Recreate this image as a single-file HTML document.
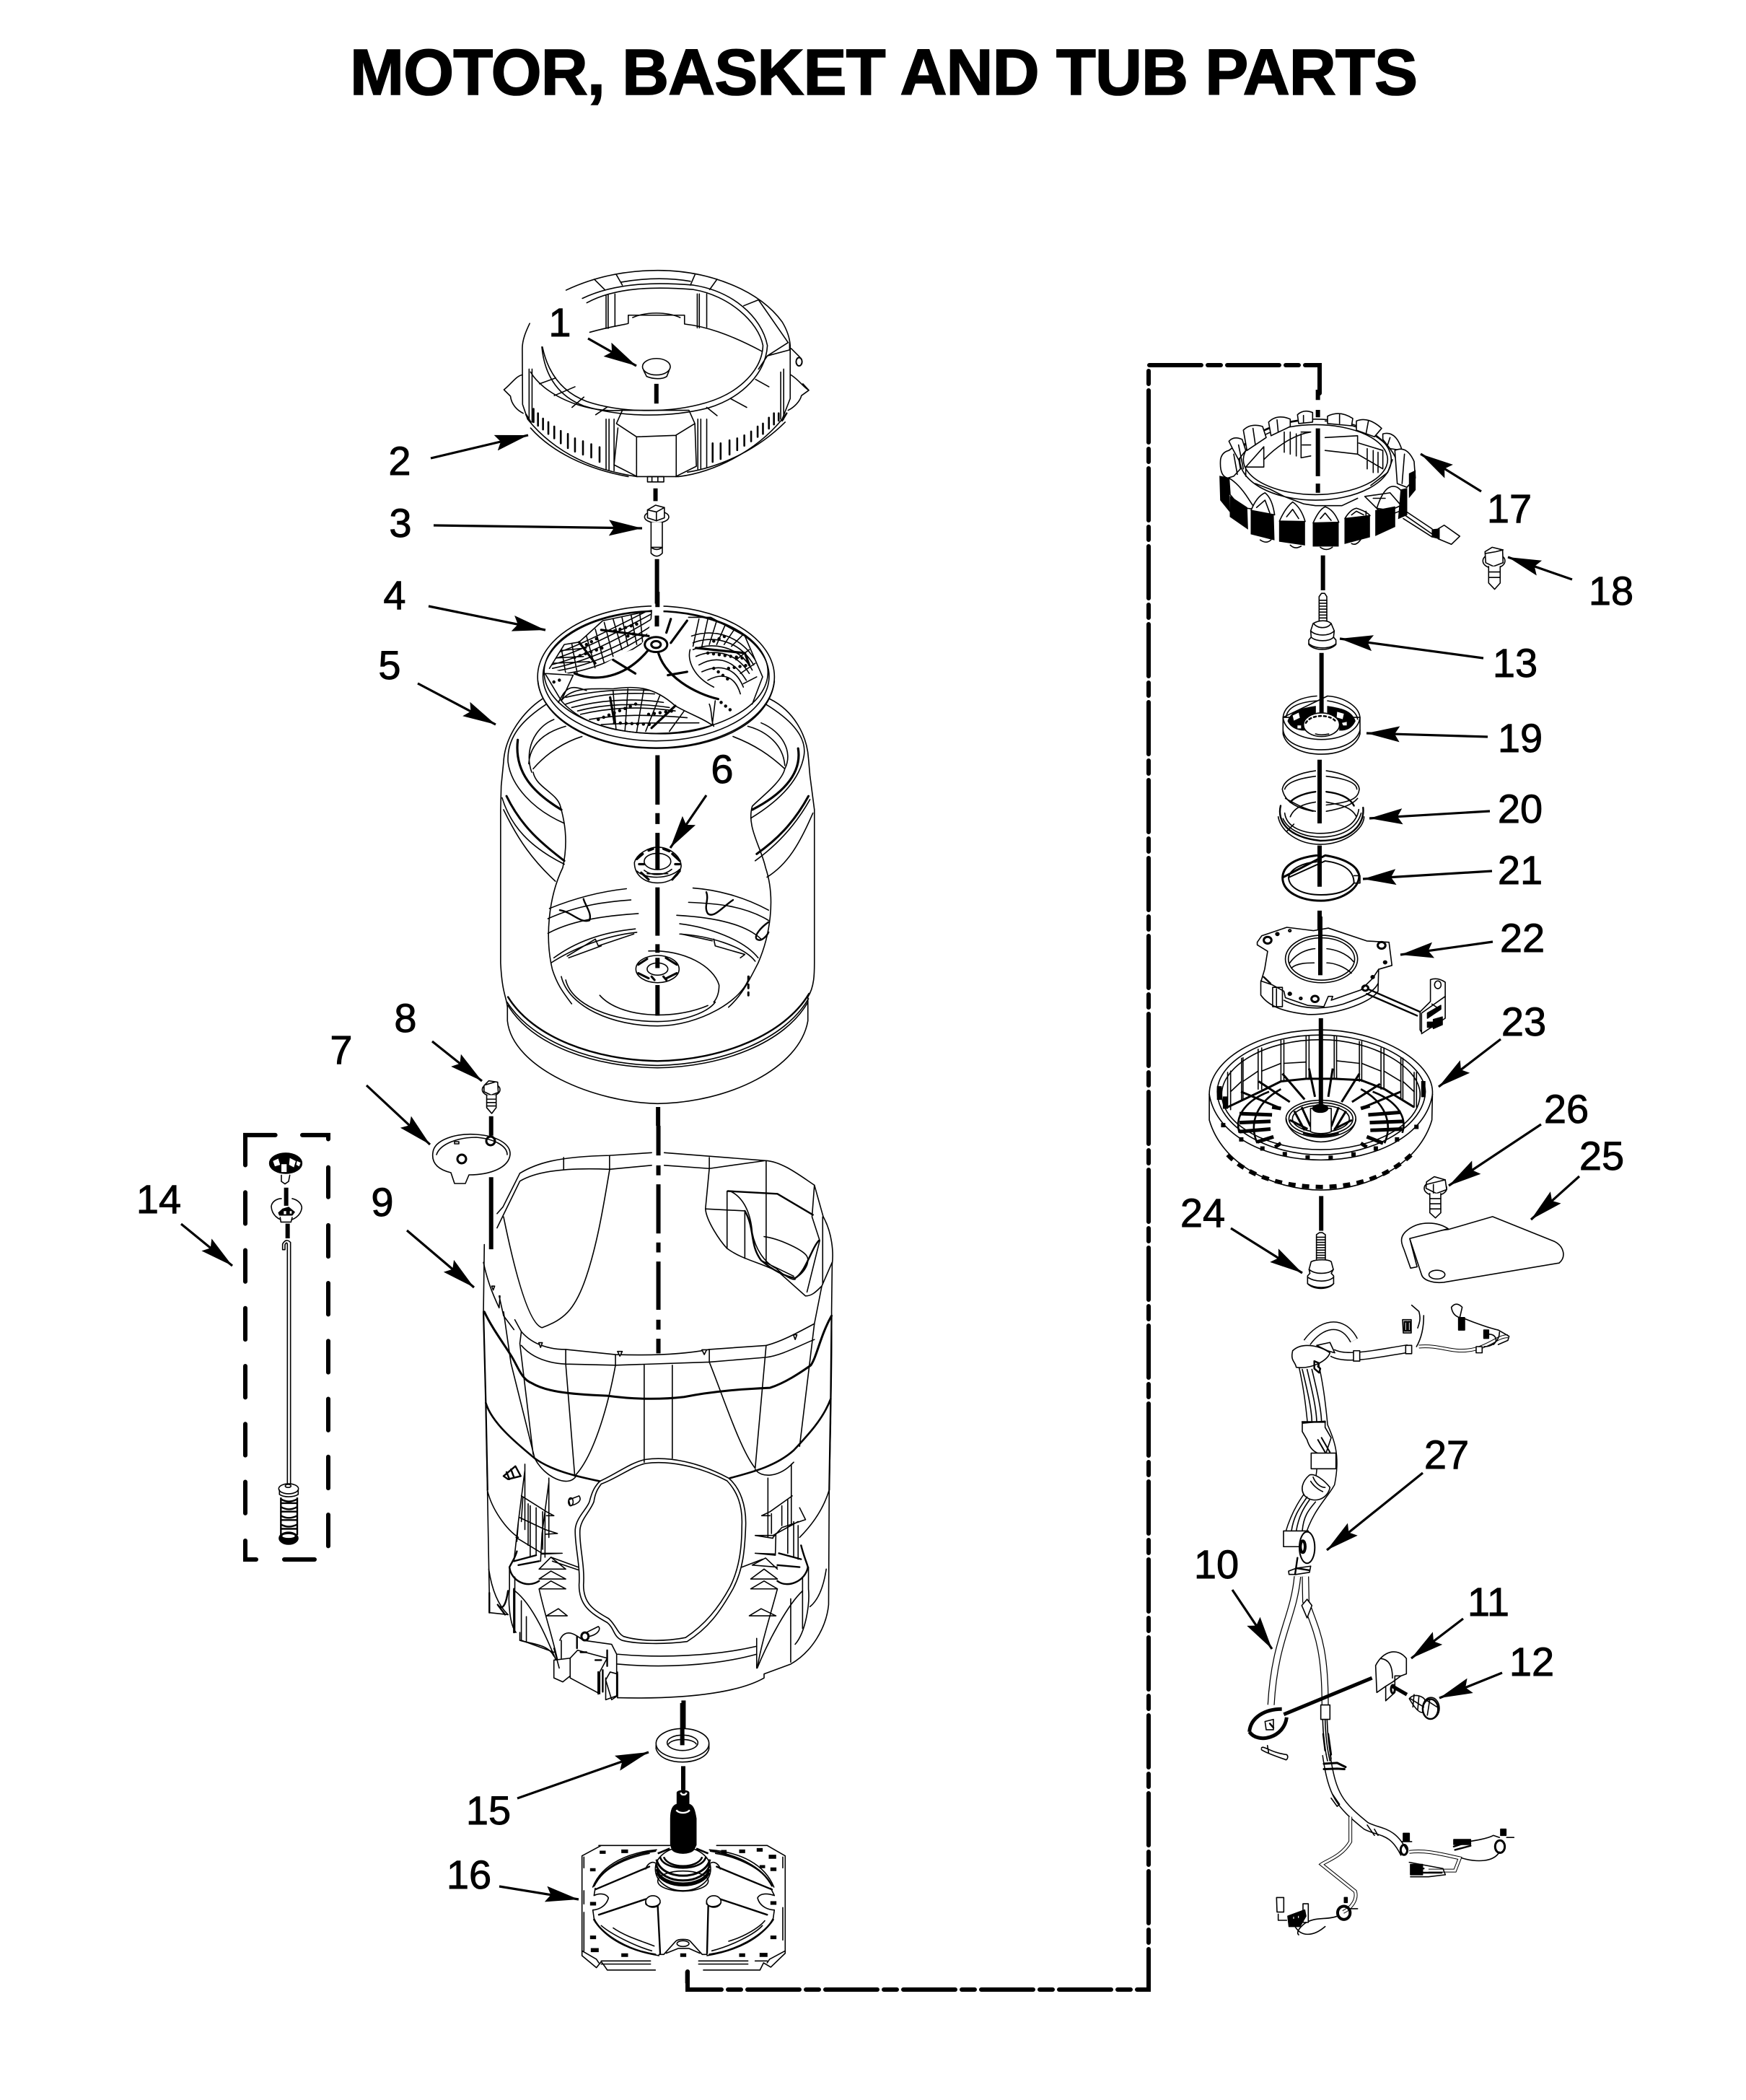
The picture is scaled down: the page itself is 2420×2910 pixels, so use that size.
<!DOCTYPE html>
<html><head><meta charset="utf-8"><title>Motor, Basket and Tub Parts</title>
<style>
html,body{margin:0;padding:0;background:#fff}
svg{display:block;position:absolute;left:0;top:0}
svg *{vector-effect:non-scaling-stroke}
.p{fill:none;stroke:#000;stroke-width:1.6;stroke-linejoin:round;stroke-linecap:round}
.w{fill:#fff}
.b{fill:#000;stroke:#000}
.k{fill:none;stroke:#000;stroke-width:6;stroke-linecap:butt}
.m{fill:none;stroke:#000;stroke-width:2.4}
.h{fill:none;stroke:#000;stroke-width:4.5}
.d{fill:none;stroke:#000;stroke-width:4.5;stroke-linecap:round;stroke-dasharray:0 8}
.a{stroke:#000;stroke-width:3.2;fill:none;marker-end:url(#ah)}
text{font-family:"Liberation Sans",Arial,sans-serif;fill:#000;stroke:#000;stroke-width:.9;font-size:56px;text-anchor:middle}
</style></head><body>
<svg width="2420" height="2910" viewBox="0 0 2420 2910" xmlns="http://www.w3.org/2000/svg">
<defs>
<marker id="ah" markerUnits="userSpaceOnUse" markerWidth="50" markerHeight="28" refX="46" refY="14" orient="auto">
<path d="M0,3 L46,14 L0,25 L7,14 Z" fill="#000" stroke="none" style="vector-effect:none"/>
</marker>
<clipPath id="sa"><path d="M345,225 L395,155 L445,148 L525,85 L690,55 L688,80 C680,130 660,150 640,170 C600,165 520,230 430,245 Z"/></clipPath>
<clipPath id="sb"><path d="M815,75 L890,75 L1005,130 L1065,250 L1030,330 L910,310 C850,260 800,240 740,170 C780,130 790,110 815,75Z"/></clipPath>
<clipPath id="sc"><path d="M385,320 C420,280 480,285 560,285 C640,275 700,280 770,335 C820,360 860,370 895,392 C820,420 700,425 570,405 C490,390 430,365 385,320Z"/></clipPath>
</defs>
<rect width="2420" height="2910" fill="#fff"/>

<text x="1225" y="131" style="font-size:90px;font-weight:bold;stroke-width:1.6" textLength="1480" lengthAdjust="spacing">MOTOR, BASKET AND TUB PARTS</text>

<!-- big dash-dot connector -->
<path class="k" style="stroke-linecap:round" stroke-dasharray="72 9 18 9" d="M953,2732 V2757 H1592 V506 H1829 V545"/>

<!-- Z1: part 1,2,3 -->
<g transform="translate(600,340) scale(.4103,.4082)">
<g class="p">
<path class="w" d="M240,490 C265,470 280,445 300,440 L302,350 C302,320 315,290 327,265 L335,310 L370,345 L530,295 L450,152 C560,100 670,85 760,85 C930,85 1100,150 1180,260 C1195,285 1205,310 1207,340 L1210,440 C1240,460 1250,480 1270,492 L1245,510 C1240,530 1220,550 1200,570 L1180,590 C1090,700 950,770 830,785 L690,785 C520,760 400,690 320,590 L305,570 C285,560 265,540 262,512 Z" style="stroke:none"/>
<path d="M450,152 C560,100 670,85 760,85 C930,85 1100,150 1180,260 C1195,285 1205,310 1207,340 L1207,520 L1180,590 C1090,700 950,770 830,785 L690,785 C520,760 400,690 320,590 L303,540 L302,350 C302,320 315,290 327,265"/>
<path d="M300,440 C280,445 265,470 240,490 L262,512 C265,540 285,560 305,570"/>
<path d="M1210,440 C1240,460 1250,480 1270,492 L1245,510 C1240,530 1220,550 1200,560 M1250,470 L1270,492"/>
<path d="M520,195 C620,140 760,140 880,150 C1000,170 1100,260 1115,340 C1112,420 1040,500 920,535 C800,570 640,570 520,530 C440,500 390,440 370,345"/>
<path d="M505,180 C620,125 760,125 880,135 C1010,155 1110,240 1130,340 C1125,430 1050,515 930,552 C800,585 640,585 510,545 C430,515 378,450 368,345"/>
<path d="M530,295 C600,275 655,268 660,265 L660,237 L850,237 L850,267 C920,275 1000,300 1112,360 M675,245 C720,225 790,225 835,245"/>
<path d="M585,168V282 M592,168V282 M615,165V275 M893,165V280 M900,165V280 M925,165V278"/>
<path d="M545,115 L580,150 M620,100 L640,135 M885,100 L870,135 M960,115 L935,150 M1050,205 L1100,185 L1200,330 L1130,375 L1100,420 M1130,375 L1205,355 M1205,330V355 M635,125 C720,110 800,110 870,122"/>
<path d="M330,430 C370,500 500,570 640,560 M360,470 L415,450 M410,510 L480,480 M470,550 L510,515 M550,575 L590,548 M1090,455 L1135,480 M1005,520 L1060,550 M925,550 L960,578"/>
<path d="M620,605 L640,560 L865,560 L885,605 L820,645 L688,650 Z M688,650 L688,785 M822,645 L822,785 M625,620 L612,745 L690,785 M885,605 L890,750 L820,785"/>
<path d="M585,590V760 M595,590V762 M612,590V765 M895,590V760 M905,590V760 M925,590V755"/>
<path d="M325,420V590 M335,420V600 M1175,430V590 M1185,420V590"/>
<path d="M330,620 C400,700 520,760 660,785 M860,770 C980,750 1100,690 1190,600"/>
<path d="M725,785 h55 v18 h-55z M740,785v18 M760,785v18"/>
<path d="M1210,350 L1240,380"/>
<ellipse cx="1237" cy="395" rx="10" ry="14" style="stroke-width:2"/>
<path class="m" style="stroke-width:2.6" d="M340,555V600M355,570V612M372,588V625M390,600V640M410,615V655M432,630V672M456,640V688M480,655V700M507,665V710M535,675V720M563,685V735M945,672V735M972,672V725M1002,662V710M1028,655V695M1052,645V680M1075,632V665M1097,615V650M1115,605V640M1135,585V622M1152,570V608M1168,570V595"/>
<path class="m" d="M1195,570L1180,595 M315,575L330,600"/>
<ellipse class="w" cx="755" cy="412" rx="47" ry="28"/>
<path d="M712,425 L722,445 C745,455 775,455 790,445 L798,425"/>
</g>
<path class="k" d="M755,470V537 M752,825V868 M757,1065V1228 M760,1262V1298"/>
<g class="p">
<ellipse class="w" cx="756" cy="922" rx="41" ry="20"/>
<path class="w" d="M725,898 L752,882 L782,890 L782,925 L755,935 L725,925Z"/>
<path d="M755,905V935 M725,898 L755,905 L782,890"/>
<path class="w" d="M737,940V1025H775V940"/>
<path class="w" d="M737,1025V1045Q756,1065 775,1045V1025Q756,1040 737,1025Z"/>
</g>
</g>

<!-- Z2: part 5 tub -->
<g transform="translate(620,820) scale(.4103,.4719)">
<g class="p">
<path class="w" d="M180,640 L180,1090 C185,1180 200,1190 203,1220 L203,1260 C220,1400 500,1500 710,1503 C950,1500 1190,1400 1218,1260 L1218,1190 C1240,1160 1240,1120 1240,1090 L1240,640 L1220,490 C1215,420 1170,350 1090,315 L320,315 C260,350 195,420 190,500 Z" style="stroke:none"/>
<path d="M320,315 C260,350 195,420 190,500 L182,570 L180,640 L180,1090 C185,1180 200,1190 203,1220 L203,1260 C220,1400 500,1500 710,1503 C950,1500 1190,1400 1218,1260 L1218,1190 C1240,1160 1240,1120 1240,1090 L1240,640 L1225,540 L1220,490 C1215,420 1170,350 1090,315"/>
<path d="M335,330 C265,370 200,420 205,500 C215,570 290,640 395,680 M1075,330 C1150,370 1215,420 1205,480 C1190,560 1110,620 1025,665"/>
<path d="M360,375 C290,400 260,470 285,530 M1060,385 C1130,410 1170,470 1140,520 M275,505 C280,440 340,410 400,395 M1015,395 C1080,410 1135,450 1140,510"/>
<path class="m" style="stroke-width:3.2" d="M238,435 C225,530 290,590 385,640 M1185,460 C1200,540 1120,600 1030,640"/>
<path d="M290,530 C300,575 370,590 382,630 C395,670 410,730 390,810 C340,900 330,1020 355,1110 C370,1150 385,1170 420,1210 M1140,520 C1130,560 1050,610 1030,630 C1010,690 1060,750 1075,810 C1110,900 1090,1010 1050,1090 C1020,1140 1000,1180 950,1220 M290,520 C340,470 400,440 455,425 M965,425 C1040,450 1090,480 1140,520"/>
<path d="M185,605 C215,690 280,750 395,800 M190,640 C240,730 290,790 365,850 M1225,610 C1180,680 1120,740 1040,790 M1235,650 C1190,740 1150,800 1080,838"/>
<path class="m" style="stroke-width:3" d="M200,600 C250,690 320,740 395,790 M1220,600 C1170,680 1110,730 1045,770"/>
<path d="M345,930 C430,900 520,880 605,872 M340,960 C440,920 540,910 620,905 M340,1003 C430,960 560,950 645,945 M360,1075 C430,1030 520,1000 635,990 M350,1090 C420,1050 530,1010 640,1000"/>
<path d="M1085,935 C1000,895 910,875 830,870 M1085,965 C1000,920 900,915 815,912 M1060,1020 C1000,970 880,955 775,950 M1050,1075 C1000,1020 880,985 785,975 M1040,1085 C1000,1040 880,1010 785,1005"/>
<path class="m" d="M380,935 C420,940 450,975 480,965 C490,945 465,920 460,902 M965,905 C930,925 900,960 880,945 C865,925 885,905 875,882 M1085,970 C1060,985 1035,1010 1045,1020 C1060,1030 1080,1010 1085,1000"/>
<path d="M405,1070 L500,1020 L510,1040 L630,1005 M410,1075 L520,1040 M900,1020 L905,1040 L1005,1065 L990,1075 M790,1005 L895,1025"/>
<path d="M385,1130 C410,1220 560,1275 710,1275 C850,1275 1000,1200 1020,1130 M400,1140 C420,1215 560,1262 710,1262 C800,1262 880,1235 905,1205 M515,1185 C580,1250 760,1260 880,1215 M680,1055 C800,1050 900,1100 918,1155 C918,1180 910,1195 900,1205"/>
<path class="m" d="M205,1190 C290,1310 500,1375 710,1378 C930,1375 1140,1300 1222,1180"/>
<path d="M202,1205 C290,1325 500,1388 710,1391 C930,1388 1140,1315 1220,1195 M205,1215 C290,1335 500,1395 710,1398 C930,1395 1140,1325 1218,1205"/>
<path d="M1017,1130V1185" style="stroke-width:3;stroke-dasharray:5 6"/>
<!-- nut 6 -->
<path class="w" d="M632,795 C640,770 680,750 710,750 C750,750 788,775 790,805 C785,840 745,855 710,855 C670,855 632,835 632,795Z"/>
<ellipse class="w" cx="710" cy="792" rx="45" ry="24"/>
<path class="m" style="stroke-width:3.2" d="M640,785 L660,770 M655,825 L680,845 M760,770 L785,790 M760,845 L785,820 M648,800 L665,800 M770,800 L785,800 M680,760 L695,755 M730,755 L750,762"/>
<path d="M665,818 C690,835 730,835 758,815 M675,828 L745,828 M640,820 C670,845 750,845 785,815"/>
<!-- lower nut -->
<ellipse cx="710" cy="1108" rx="73" ry="40" class="w"/>
<ellipse cx="710" cy="1108" rx="35" ry="18" class="w"/>
<path class="m" style="stroke-width:3" d="M645,1095 L675,1078 M738,1075 L775,1095 M645,1120 L680,1135 M740,1135 L775,1120 M690,1130 L700,1140 M730,1130 L740,1140"/>
<!-- impeller 4 -->
<ellipse cx="705" cy="250" rx="400" ry="208" class="w"/>
<ellipse cx="705" cy="248" rx="382" ry="190"/>
<ellipse cx="705" cy="236" rx="378" ry="180"/>
<path d="M306,262 C320,380 500,460 705,460 C920,460 1090,380 1105,262"/>
</g>
<path fill="#fff" d="M690,35h40v60h-40z"/>
<path class="k" d="M710,0V45 M708,70V102"/>
<g class="p">
<path d="M345,225 L395,155 L445,148 L525,85 L690,55 L688,80 M815,75 L890,75 L1005,130 L1065,250 L1030,330 M385,320 C420,280 480,285 560,285 C640,275 700,280 770,335 C820,360 860,370 895,392 C820,420 700,425 570,405 C490,390 430,365 385,320 M330,240 L425,245 L385,320 L330,240"/>
<g clip-path="url(#sa)">
<path d="M350,185 C430,165 530,120 690,50 M350,200 C430,180 530,140 690,65 M350,215 C440,195 560,150 690,80 M355,225 C440,210 570,170 690,100 M370,232 C450,222 580,185 690,115 M400,240 C470,232 590,200 690,130 M360,175 L470,165 M355,195 L460,190 M360,210 L480,205 M385,165 L400,240 M420,150 L440,245 M470,130 L500,225 M500,110 L530,210 M530,90 L560,190 M560,80 L590,170 M590,75 L610,160 M620,65 L640,155 M650,60 L660,150"/>
<path class="d" d="M430,193 L540,160 M470,155 L520,130 M565,115 L640,95 M610,130 L640,120"/>
</g>
<g clip-path="url(#sb)">
<path d="M825,130 C890,110 980,120 1040,200 M830,150 C885,130 980,135 1035,215 M830,170 C880,150 980,150 1030,230 M840,190 C890,170 970,170 1020,240 M850,215 C900,190 960,190 1010,260 M860,235 C910,215 970,215 1000,280 M880,260 C920,240 970,240 990,300 M850,80 L830,160 M880,80 L860,160 M910,85 L885,155 M940,95 L910,155 M970,110 L935,155 M1000,125 L960,160 M1020,170 L975,200 M1040,210 L990,240 M1045,250 L1000,270"/>
<path class="d" d="M880,180 L1000,195 M900,145 L940,130 M950,225 L1020,215 M900,225 L960,265"/>
</g>
<g clip-path="url(#sc)">
<path d="M400,310 C500,290 600,285 690,290 M400,330 C500,300 600,295 700,300 M420,340 C510,320 620,310 730,325 M440,350 C530,330 640,325 750,340 M450,360 C550,340 650,335 770,350 M480,375 C580,360 680,360 810,370 M520,390 C620,385 720,385 850,385 M560,290 L570,405 M610,285 L600,410 M665,280 L640,410 M720,300 L670,410 M770,335 L690,400 M800,350 L750,410"/>
<path class="d" d="M510,375 L650,325 M565,385 L700,390 M680,360 L760,350"/>
</g>
<path class="d" d="M360,265 L395,255 M925,325 L960,350"/>
<path class="m" style="stroke-width:3.2" d="M445,148 L500,210 M520,112 L680,130 M430,240 C500,265 600,255 680,170 M560,200 L635,240 M710,170 C730,250 840,300 915,315 M745,245 L810,235 M840,165 L1005,180 L1020,215 M550,310 L565,385 M690,400 L770,335 M755,80 L740,120 M810,85 L755,150"/>
<path d="M905,320 L895,390 M885,330 C895,350 890,380 900,395 M375,325 C400,285 410,270 470,290 M820,170 C810,200 830,250 900,280"/>
<ellipse class="w" cx="705" cy="155" rx="38" ry="22" style="stroke-width:3"/>
<ellipse cx="705" cy="155" rx="16" ry="10" style="stroke-width:3"/>
</g>
<path class="k" d="M710,480V625 M710,650V682 M710,708V815 M710,868V1010 M710,1035V1060 M710,1075V1105 M710,1155V1245 M712,1513V1568 M148,1540V1568"/>
<!-- bolt 8 -->
<g class="p">
<ellipse class="w" cx="148" cy="1462" rx="30" ry="18"/>
<path class="w" d="M124,1450 L140,1436 L170,1440 L172,1470 L148,1478 L124,1468Z"/>
<path class="w" d="M133,1478V1515L150,1532L165,1515V1478"/>
<path d="M133,1490H165M133,1500H165M133,1510H165 M128,1448 L160,1440"/>
</g>
</g>

<!-- part 7 plate -->
<g class="p">
<path class="w" d="M600,1597 C602,1580 630,1570 660,1572 C690,1574 708,1586 707,1600 C705,1618 680,1628 650,1628 L645,1640 L630,1640 L625,1625 C605,1620 598,1610 600,1597Z"/>
<path d="M605,1600 C610,1585 635,1576 660,1576 C685,1578 703,1588 703,1600"/>
<circle cx="640" cy="1606" r="6" style="stroke-width:3"/>
<circle cx="680" cy="1581" r="6" style="stroke-width:3"/>
<path d="M630,1582h6v3h-6z"/>
</g>

<!-- Z3: part 9 -->
<g transform="translate(620,1560) scale(.4103,.5485)">
<g class="p">
<path d="M245,120 C300,95 370,78 548,75 L690,68 M733,68 L1075,88 C1130,90 1190,125 1240,150 L1270,230 C1300,270 1305,320 1300,350 L1298,470 C1300,600 1295,700 1295,750 L1290,920 L1288,1210 C1280,1270 1230,1330 1160,1360 L1070,1385 L1070,1395 C1000,1425 850,1450 575,1445"/>
<path d="M245,120 L188,205 L168,222 M245,140 L168,258 M245,140 C300,115 400,105 548,110 L690,100 M733,100 L885,108 L1075,88 M393,80V110 M548,75V112 M885,80V108 L872,210 C875,240 920,290 945,310 C1000,340 1060,345 1120,370 L1210,430 C1235,430 1250,415 1265,405"/>
<path d="M190,230 C220,340 270,500 320,510 C390,490 430,470 470,380 C510,290 530,190 548,112"/>
<path d="M872,210 L1005,215 V335 M945,165V310 M1077,88V345 M1240,150 L1232,230 L1258,290 L1215,420 M1268,230V400"/>
<path class="m" d="M948,165 L1115,172 L1235,225 M1005,215 C1040,260 1020,300 1060,340 C1100,365 1140,380 1175,385 C1210,370 1230,310 1255,290"/>
<path d="M955,165 C1000,180 1025,220 1030,270 C1040,310 1070,345 1110,360 C1140,380 1165,390 1175,388 M1070,280 C1120,285 1190,310 1210,325 C1230,340 1210,370 1175,385 M1065,342 L1170,380"/>
<path d="M125,300 L122,470 L130,700 L135,900 L143,1230 L205,1235"/>
<path d="M122,345 C135,390 150,420 175,460 L178,430 L175,430 L190,480 L225,515 M228,490 L250,520 C290,555 350,565 400,565 L568,578 C650,580 780,580 885,565 L1077,555 C1130,545 1190,520 1240,500 L1265,405 L1300,345"/>
<path d="M250,520 L245,550 M250,555 C290,590 350,600 400,602 L568,605 L885,597 L1077,585 C1130,580 1190,555 1240,540 M400,565 V602 L430,880 M568,578V605 C540,720 490,840 430,885 M885,565V597 C930,680 990,820 1040,865 L1077,555 M1240,500 L1190,810 M665,605V850 M760,605V840 M190,470 L215,600 L295,840 M245,550 L290,830"/>
<path d="M155,415l-5-10h10z M315,560l-6-12h12z M583,582l-8-12h16z M868,578l-8-12h16z M1175,540l-6-12h12z" class="w"/>
<path class="m" style="stroke-width:3" d="M125,470 C150,510 190,550 215,580 C240,610 250,640 285,650 C330,670 400,678 540,682 C640,692 720,692 800,685 C900,670 1000,665 1090,662 C1140,650 1190,625 1228,605 C1250,580 1260,530 1298,480"/>
<path class="m" style="stroke-width:2.6" d="M130,700 C150,750 230,800 295,840 C350,870 430,885 515,898 M955,890 C1030,875 1110,860 1170,820 C1220,780 1270,740 1295,690"/>
<path class="m" style="stroke-width:2.2" d="M122,470 L130,700 L136,920 M1298,480 L1295,690 L1290,920"/>
<path d="M295,840 C330,890 410,915 435,885 M1040,868 C1060,890 1120,890 1170,850"/>
<path d="M135,920 C150,970 200,1020 240,1040 M1290,920 C1270,970 1230,1010 1190,1040"/>
<!-- opening -->
<path d="M515,898 C570,880 620,850 670,843 C750,835 850,850 950,890 C990,915 1010,960 1008,1010 C1005,1070 1000,1120 965,1170 C920,1230 880,1270 810,1303 C740,1310 640,1310 590,1300 C560,1290 565,1270 540,1255 C480,1230 445,1210 445,1160 C450,1110 430,1060 432,1020 C435,990 470,970 480,950 C490,920 500,910 515,898Z"/>
<path d="M520,905 C575,890 625,860 670,853 C750,845 850,860 945,897 C980,925 998,960 995,1010 C995,1070 985,1120 955,1165 C915,1220 870,1260 805,1293 C740,1303 650,1303 595,1290 C575,1282 570,1262 545,1245 C490,1222 460,1205 460,1160 C465,1110 445,1060 448,1022 C450,995 482,975 495,950 C500,925 510,915 520,905Z"/>
<path d="M350,1090 L442,1115 M355,1100 L442,1122 M995,1115 L1065,1095"/>
<path class="w" d="M410,945 L445,935 C455,945 445,955 415,960Z"/>
<ellipse cx="417" cy="950" rx="8" ry="10"/>
<path d="M190,885 L230,860 L248,885 L205,893Z M200,875 L210,893 M215,868 L225,888" style="stroke-width:2.4"/>
<path d="M262,855V1020 M343,890V1040 M250,935 L335,975 L360,985 L335,985 M245,990 L330,1020 L372,1030 L330,1032 M232,1040 L320,1080 L388,1080 L320,1082 M262,870 L240,1000 L225,1100 M343,900 L320,1030 L315,1100 M273,955V1060 M322,975V1070 M280,960V1090 M330,975V1090 M255,940 L250,1000 M240,1000 L235,1050 M300,965V1085"/>
<path d="M310,1120 L350,1090 L400,1120 L310,1120 M310,1145 L350,1125 L400,1145 L310,1145 M310,1170 L350,1150 L400,1170 L310,1170 M335,1238 L375,1220 L405,1238Z M310,1170 C330,1240 360,1300 378,1370 C340,1300 290,1210 228,1175"/>
<path class="m" d="M235,1075 C230,1090 220,1100 210,1115 C215,1150 270,1170 310,1150 M225,1100 L300,1085 M240,1110 L310,1100"/>
<path d="M210,1115 V1170 C205,1200 210,1260 232,1280 M228,1140V1280 M250,1200V1300 M267,1240V1305 M245,1300 C290,1310 340,1310 360,1340"/>
<path class="m" d="M142,1180V1230 M205,1175 C200,1200 190,1230 170,1210 L195,1235 M225,1170V1280"/>
<path d="M140,1120 C150,1170 170,1210 205,1235"/>
<path d="M1083,890V1040 M1162,855V1010 M1165,935 L1090,975 L1062,985 L1090,985 M1185,1000 L1100,1035 L1040,1035 L1100,1042 M1110,1030 L1108,1085 L1040,1080 L1108,1082 M1190,965 L1210,995 L1190,1000 L1130,1015 L1100,1040 M1150,945V1080 M1170,1000V1090 M1185,1010V1095 M1095,980V1030 M1130,960V1010"/>
<path d="M1115,1120 L1075,1092 L1030,1110 L1115,1115 M1115,1145 L1070,1120 L1025,1145 Z M1115,1170 L1070,1150 L1025,1170Z M1020,1238 L1060,1220 L1110,1238Z M1115,1170 C1090,1240 1060,1310 1047,1370 C1085,1300 1150,1210 1200,1175"/>
<path class="m" d="M1195,1060 C1205,1090 1215,1105 1218,1115 C1210,1150 1150,1170 1115,1150 M1120,1080 L1195,1095 M1115,1110 L1190,1115"/>
<path d="M1220,1115V1170 C1225,1210 1210,1280 1175,1310 M1200,1140V1270 M1160,1195V1355 M1045,1295V1370 M1280,1120 C1270,1170 1250,1200 1225,1215"/>
<path d="M250,1300 L360,1330 M245,1300V1280 M575,1335 C720,1345 900,1340 1045,1315 M575,1360 C720,1370 900,1365 1045,1335 M575,1445V1380"/>
<path class="w" d="M360,1350 L360,1395 L390,1405 L415,1390 V1345Z"/>
<path d="M380,1300 C385,1290 400,1270 440,1290 L460,1300 L555,1310 L572,1335 V1440 L535,1450 V1395"/>
<path class="w" d="M415,1345 L440,1325 L540,1345 L515,1380 V1435 L415,1395Z"/>
<path class="m" d="M510,1380V1435 M525,1375V1430 M438,1290V1320 M540,1325V1365"/>
<path d="M535,1400 L550,1380 L575,1385 V1440 L555,1450 Z"/>
<ellipse cx="465" cy="1290" rx="12" ry="10" style="stroke-width:3"/>
<path d="M470,1280 L510,1265 C520,1270 510,1285 480,1290"/>
<path d="M360,1320 L378,1370 M385,1300 V1345"/>
<path class="m" d="M450,1330h20M500,1350h20"/>
</g>
<path class="k" d="M713,0V75 M713,100V125 M713,148V272 M713,295V320 M713,343V465 M713,490V515 M713,538V575 M148,0V25 M148,130V312 M798,1452V1568"/>
</g>

<!-- Z4: part 14 -->
<g transform="translate(300,1520) scale(.3333,.4337)">
<path class="k" style="stroke-linecap:round" d="M120,218V122H245 M357,122H465V135 M120,305V405 M120,490V590 M120,675V775 M120,860V960 M120,1045V1145 M120,1230V1330 M120,1418V1478H165 M282,1478H408 M465,225V320 M465,410V510 M465,595V695 M465,780V880 M465,965V1065 M465,1150V1250 M465,1335V1435"/>
<ellipse class="b" cx="288" cy="212" rx="68" ry="33"/>
<path fill="#fff" stroke="none" d="M235,205l22,-8l8,20l-22,5z M270,215h22v25h-22z M305,195l25,10l-8,20l-20,-8z M335,205l15,5l-6,12l-12,-5z"/>
<g class="p">
<path class="w" d="M270,250 V270 L285,278 L300,270 L305,250"/>
<path d="M228,350 C230,335 250,325 270,325 M315,325 C335,328 355,340 355,355 C350,380 320,395 290,395 C255,395 230,375 228,350"/>
<path class="w" d="M265,385 L268,400 H310 L315,385"/>
</g>
<path class="k" d="M290,290V348 M296,405V452"/>
<path class="b" d="M258,370 L275,358 L300,352 L325,368 L315,378 L262,378Z"/>
<path fill="#fff" stroke="none" d="M280,365h10v10h-10z M305,365h8v8h-8z"/>
<g class="p">
<path d="M275,488 V470 Q290,450 308,465 L308,1240 M285,488 V472 Q292,462 295,470 L295,1240 M275,488 H285"/>
<ellipse class="w" cx="300" cy="1252" rx="41" ry="16"/>
<ellipse cx="298" cy="1243" rx="12" ry="5"/>
<path d="M262,1256 V1270 C280,1280 320,1280 340,1270 V1256"/>
</g>
<path class="m" style="stroke-width:2.4" d="M268,1285 Q300,1300 336,1285 M268,1298 H336 M268,1310 Q300,1325 336,1310 M268,1325 H336 M268,1338 Q300,1352 336,1338 M268,1352 H336 M268,1366 Q300,1380 336,1366 M268,1380 H336 M268,1280V1400 M336,1280V1400"/>
<ellipse class="b" cx="300" cy="1410" rx="40" ry="20"/>
<ellipse cx="300" cy="1403" rx="26" ry="6" fill="#fff"/>
</g>

<!-- Z5: 17,18,13,19,20,21 -->
<g transform="translate(1660,540) scale(.3333,.5102)">
<g class="p">
<path class="w" d="M90,230 C90,150 240,60 490,55 C720,55 900,130 905,240 C905,330 720,420 520,430 C300,430 90,350 90,230Z" style="stroke:none"/>
<ellipse cx="490" cy="190" rx="315" ry="110"/>
<ellipse cx="490" cy="190" rx="300" ry="95"/>
<path d="M175,175 C180,130 330,85 470,82 M530,85 C680,90 810,140 830,200"/>
<path d="M275,155 L200,210 L200,235 M275,155V210 L205,210 M275,190 C350,140 420,120 470,115 M360,115V170 M385,115V175 M410,120V180 M430,120V185 L470,180 M435,150H470 M430,115 L470,115 M530,130 L665,125 V175 L770,215 V165 L670,145 M705,160V215 M730,165V225 M750,170V225 M530,165 L665,175"/>
<path d="M240,255 L300,270 L360,290 L440,310 L490,315 L600,315 L665,295 M720,260 L790,225 L810,190"/>
</g>
<g class="p w" style="fill:#fff">
<!-- scalloped upper coils -->
<path d="M95,190 Q100,170 130,165 L160,150 L178,215 L150,235 L125,240 Q90,235 95,190Z"/>
<path d="M130,140 Q150,125 185,135 L200,165 L170,190 L145,160Z"/>
<path d="M190,110 Q220,90 270,100 L285,130 L205,165 Z"/>
<path d="M295,88 Q330,65 385,80 L385,100 L305,125Z"/>
<path d="M415,68 Q440,52 478,62 L478,88 L420,92Z"/>
<path d="M540,72 Q590,55 645,78 L640,98 L540,92Z"/>
<path d="M660,85 Q710,72 765,105 L735,128 L660,110Z"/>
<path d="M770,120 Q825,110 850,165 L800,160 L770,135Z"/>
<path d="M820,165 Q870,150 900,195 L905,240 L870,265 L830,255Z"/>
<path d="M745,322 Q780,250 830,265 Q865,280 860,310 L800,328Z"/>
<path d="M130,240 Q170,255 210,295 L240,325 L180,320 L135,285Z"/>
<path d="M222,328 Q245,290 280,280 Q310,295 320,340Z"/>
<path d="M340,357 Q365,320 395,305 Q430,320 447,358Z"/>
<path d="M480,362 Q505,325 530,318 Q565,325 587,360Z"/>
<path d="M612,350 Q635,325 660,322 Q700,330 717,342Z"/>
</g>
<g class="p">
<path d="M245,320 L280,300 L300,335 M370,345 L395,325 L420,350 M510,350 L530,335 L555,355 M640,340 L660,330 L690,340 M150,175 L165,230 M170,150 L190,215 M230,105 L240,150 M330,82 L335,115 M440,70 L440,90 M590,68 L590,92 M710,85 L700,120 M800,130 L790,150 M860,175 L850,255"/>
<path d="M695,290 L800,280 L860,325 L780,345 Z M730,295 L780,295 M700,330V395"/>
<path d="M865,330 L975,378 M860,340 L975,392 M855,350 L975,400"/>
<path class="w" d="M1000,378 L1025,368 L1090,398 L1055,420 L1000,405Z"/>
</g>
<path class="b" d="M92,235 L130,240 L132,330 L95,300Z M135,290 L205,320 L208,378 L135,345Z M222,328 L315,340 L318,408 L222,392Z M340,357 L445,358 L445,422 L340,412Z M480,362 L585,360 L585,425 L480,425Z M612,350 L715,342 L715,400 L612,418Z M740,328 L820,318 L820,372 L740,396Z M880,228 L905,220 L905,272 L880,292Z M845,272 L870,268 L870,340 L835,350Z"/>
<g class="p">
<path d="M260,408 Q285,420 305,408 M385,422 Q405,435 430,425 M510,428 Q535,440 560,428 M640,418 Q660,425 680,405"/>
</g>
<path class="b" d="M975,380 L1005,378 L1005,405 L975,400Z"/>
<path class="k" d="M500,0V28 M500,55V75 M500,105V235 M500,255V280 M521,450V545 M515,715V880 M507,1005V1178 M507,1238V1350 M507,1415V1568"/>
<g class="p">
<!-- bolt 18 -->
<ellipse class="w" cx="1232" cy="465" rx="46" ry="20"/>
<path class="w" d="M1195,440 L1225,428 L1268,435 L1270,470 L1230,480 L1198,470Z"/>
<path d="M1195,445 L1240,440 L1270,435"/>
<path class="w" d="M1210,480 V525 L1235,542 L1258,525 V480"/>
<path d="M1210,495 H1258 M1210,510 H1258"/>
<!-- 13 -->
<path class="w" d="M505,562 L515,553 H528 L537,562 V640 H505Z"/>
<path d="M505,572H537M505,580H537M505,588H537M505,596H537M505,604H537M505,612H537M505,620H537M505,628H537"/>
<path class="w" d="M480,635 C505,625 540,625 555,635 L568,655 L565,672 L575,680 V692 C550,710 485,710 462,692 V680 L472,672 L470,655Z"/>
<path d="M470,655 C490,670 550,670 568,655 M472,672 C490,685 550,685 565,672 M462,690 C490,705 550,705 575,690 M482,635 C500,650 540,650 555,635"/>
<!-- 19 -->
<path class="w" d="M355,890 V935 C370,975 450,990 515,990 C590,990 660,970 675,935 V890Z"/>
<path d="M355,925 C365,965 450,978 515,978 C590,978 660,960 675,925"/>
<path d="M355,890 C360,855 425,835 495,832 M540,832 C610,835 670,860 675,890 C670,925 600,950 515,950 C430,950 360,925 355,890Z M368,890 C372,860 430,848 495,845 M540,845 C600,850 660,870 665,895"/>
</g>
<path class="b" d="M375,900 C390,870 440,865 490,860 L490,885 C450,890 440,905 445,925 C410,925 385,915 375,900Z M540,860 C590,865 640,870 655,900 C640,920 620,925 590,925 C595,905 580,890 540,885Z"/>
<path fill="#fff" d="M395,885l25,-8l5,14l-25,8z M580,875l28,5l-5,15l-25,-5z M415,912l15,0v8h-15z M600,905l20,-3v10h-15z"/>
<g class="p">
<ellipse class="w" cx="515" cy="910" rx="75" ry="32"/>
<path class="m" style="stroke-width:2.5;stroke-dasharray:3 4" d="M450,905 C470,880 560,880 578,905"/>
<path d="M490,935 C505,938 525,938 545,935"/>
<!-- 20 -->
<path d="M352,1085 C360,1055 430,1040 490,1035 M535,1035 C600,1040 670,1060 672,1085 C668,1110 640,1120 535,1128 M352,1085 C360,1115 400,1135 480,1145 M362,1085 C372,1065 430,1055 490,1050 M535,1050 C600,1055 660,1065 662,1085 M365,1110 C420,1130 450,1140 490,1145 M535,1145 C580,1140 640,1130 665,1110"/>
<path class="m" d="M385,1120 C405,1105 450,1095 490,1092 M535,1092 C580,1095 630,1105 650,1130"/>
<path d="M385,1160 C400,1135 440,1125 490,1120 M535,1120 C570,1125 640,1130 660,1160 M362,1150 C370,1190 440,1205 510,1205 C590,1205 660,1185 670,1140 M355,1165 C375,1195 440,1215 510,1215 C590,1215 660,1195 680,1150"/>
<path class="m" d="M345,1130 C330,1170 370,1215 510,1225 C640,1225 695,1180 688,1135"/>
<path d="M335,1160 C345,1200 420,1235 510,1235 C610,1235 690,1195 692,1160 M400,1180 L370,1200"/>
<!-- 21 -->
<path class="m" style="stroke-width:3" d="M353,1325 C355,1285 430,1270 495,1265 M530,1265 C600,1272 665,1290 672,1320 C670,1360 590,1388 513,1388 C430,1388 353,1365 353,1325Z"/>
<path class="m" style="stroke-width:2" d="M378,1325 C385,1300 440,1285 495,1282 M530,1280 C590,1285 650,1300 650,1340 C620,1365 570,1372 513,1372 C440,1372 380,1355 378,1325Z"/>
<path d="M650,1320 h25 v20 h-25 M655,1300 L672,1320"/>
</g>
</g>

<!-- Z6: 22,23,24,25,26 -->
<g transform="translate(1640,1270) scale(.4103,.357)">
<g class="p">
<path class="w" d="M250,100 L265,75 L350,42 L440,55 L490,45 L620,95 L695,100 L705,190 L660,205 L658,290 C630,340 500,385 420,380 C340,370 290,350 262,305 V255 L275,205 L285,135 L250,110Z"/>
<path d="M262,250 L300,265 L340,290 L345,315 L420,345 L475,350 L490,310 L505,310 L500,325 L600,285 L640,240 L660,205"/>
<path d="M302,275 V350 H335 V275 Z M315,280V350 M340,325 C380,350 450,370 540,340 C600,315 640,300 658,260"/>
<ellipse cx="467" cy="165" rx="122" ry="92"/>
<ellipse cx="467" cy="165" rx="112" ry="82" />
<path d="M360,180 C390,130 440,125 445,125 M485,125 C510,128 550,140 575,175 M365,200 C385,180 420,180 442,180 M485,180 C510,180 545,195 568,220"/>
<circle cx="285" cy="92" r="13" style="stroke-width:3"/>
<circle cx="670" cy="112" r="13" style="stroke-width:3"/>
<circle cx="445" cy="320" r="12" style="stroke-width:3"/>
<circle cx="318" cy="68" r="4" style="stroke-width:3"/><circle cx="360" cy="55" r="4" style="stroke-width:2"/><circle cx="360" cy="300" r="4" style="stroke-width:3"/><circle cx="397" cy="318" r="3" style="stroke-width:3"/><circle cx="682" cy="178" r="4" style="stroke-width:3"/><circle cx="640" cy="235" r="4" style="stroke-width:3"/>
<path class="m" d="M272,235 L295,260"/>
<circle cx="615" cy="278" r="10" style="stroke-width:3"/>
<path class="m" style="stroke-width:2.4" d="M625,282 L800,370 M620,300 L790,385"/>
<path class="w" d="M835,245 Q860,235 885,255 V310 L805,375 V450 L800,440 V370 L835,330Z"/>
<ellipse cx="860" cy="265" rx="11" ry="15"/>
<path d="M885,310 V395 L805,455 M840,340 L860,355"/>
<path class="b" d="M825,375 L870,345 L870,360 L825,395Z M825,410h20v20h-20z M845,400l30,-10v30l-30,15z"/>
<!-- rotor -->
<path class="w" d="M88,690 C88,560 250,440 465,440 C660,440 840,560 842,680 L840,790 C800,950 640,1060 465,1062 C300,1060 130,960 88,790Z"/>
<path d="M115,680 C115,570 260,460 465,460 C650,460 815,570 818,680 C815,810 650,925 465,925 C280,925 115,810 115,680Z"/>
<path d="M130,690 C130,585 270,478 465,478 C640,478 800,585 800,690 C800,810 640,905 465,905 C290,905 130,810 130,690Z"/>
<path d="M88,690 C110,850 280,945 465,945 C650,945 820,850 842,690"/>
<path d="M150,605V740 M160,600V750 M197,550V710 M202,548V712 M253,515V670 M265,510V670 M330,480V640 M340,480V640 M415,465V630 M425,465V630 M510,465V630 M518,465V630 M595,485V640 M603,485V640 M668,510V670 M678,510V670 M735,550V710 M742,550V710 M780,605V740 M788,605V740"/>
<path d="M160,680 L197,640 M202,640 L253,600 M265,600 L330,570 M340,570 L415,565 M518,560 L595,570 M603,570 L668,600 M678,600 L735,640 M742,640 L780,680"/>
</g>
<path class="m" style="stroke-width:3" d="M150,740 L260,680 L330,640 L415,630 L510,630 L600,635 L680,670 L780,740 M195,680 L330,745 M255,640 L360,720 M335,610 L410,710 M425,590 L445,700 M505,590 L490,700 M595,610 L535,720 M665,650 L570,720 M735,680 L600,745"/>
<path class="m" style="stroke-width:2.6" d="M190,840 C170,770 220,710 290,680 M250,880 C220,800 250,720 330,670 M740,840 C760,770 710,710 640,680 M680,880 C710,800 680,720 600,670"/>
<path class="h" style="stroke-width:5" d="M190,765 L300,770 M190,800 L295,795 M190,835 L295,825 M250,875 L305,855 M310,895 L330,880 M625,770 L735,760 M630,800 L745,795 M632,830 L740,825 M620,855 L675,880 M600,880 L620,895 M300,740 L330,745 M600,745 L630,735"/>
<path class="b" d="M135,700 L150,700 L150,745 L135,745Z M115,660h14v50h-14z M805,640h12v60h-12z" style="stroke-width:1"/>
<g class="p">
<ellipse class="w" cx="465" cy="785" rx="118" ry="72"/>
<ellipse cx="465" cy="785" rx="108" ry="62"/>
<ellipse cx="465" cy="785" rx="96" ry="52"/>
<path d="M348,785 C350,830 400,872 465,875 C530,872 582,830 583,785"/>
</g>
<path class="m" style="stroke-width:3" d="M375,755 L410,830 M400,740 L430,815 M550,755 L510,830 M525,740 L500,815 M360,790 L420,825 M570,790 L510,825 M405,840 C440,855 490,855 525,840"/>
<g class="p"><path class="w" d="M430,745 V835 C445,845 485,845 500,835 V745Z"/></g>
<path class="k" d="M463,0V228 M465,395V735 M466,1085V1220"/>
<ellipse class="b" cx="463" cy="745" rx="26" ry="16"/>
<path class="h" style="stroke-width:6" stroke-dasharray="10 9" d="M150,925 C220,1010 340,1048 465,1050 C590,1048 690,1010 770,925"/>
<path class="d" style="stroke-width:6;stroke-dasharray:0 32;stroke-linecap:square" d="M135,810 C190,880 290,925 465,940 C640,925 730,870 795,810"/>
<g class="p">
<!-- 24 -->
<path class="w" d="M450,1235 L460,1227 H470 L480,1235 V1355 H450Z"/>
<path d="M450,1245H480M450,1255H480M450,1265H480M450,1275H480M450,1285H480M450,1295H480M450,1305H480M450,1315H480M450,1325H480M450,1335H480M450,1345H480"/>
<path class="w" d="M432,1340 C450,1330 490,1330 500,1340 L507,1370 L500,1385 L508,1395 V1425 C490,1450 440,1450 420,1425 V1395 L428,1385 L425,1370Z"/>
<path d="M425,1370 C445,1390 490,1390 507,1370 M420,1400 C445,1420 490,1420 508,1400 M420,1425 C445,1445 490,1445 508,1425"/>
<!-- 26 -->
<ellipse class="w" cx="852" cy="1055" rx="38" ry="28"/>
<path class="w" d="M822,1030 L848,1010 L885,1022 L890,1060 L855,1075 L820,1055Z"/>
<path d="M822,1040 L885,1022 M845,1040V1075"/>
<path class="w" d="M833,1075 V1150 L852,1170 L870,1150 V1075"/>
<path d="M833,1095H870M833,1115H870M833,1135H870"/>
<!-- 25 -->
<path class="w" d="M895,1215 L1045,1165 L1255,1262 C1285,1280 1295,1320 1270,1345 L880,1420 C840,1425 810,1410 805,1390 L765,1250 C790,1240 850,1220 895,1215Z"/>
<path class="w" d="M895,1212 C860,1185 800,1180 760,1215 C730,1240 735,1265 745,1290 L768,1365 L790,1360 L765,1250 Z"/>
<ellipse cx="857" cy="1390" rx="27" ry="17"/>
</g>
</g>

<!-- Z7: harness 10,11,12,27 -->
<g transform="translate(1680,1800) scale(.3333,.574)">
<g fill="none" stroke-linecap="butt">
<path stroke="#000" stroke-width="12" d="M395,105 C450,60 540,45 590,100 M500,130 C560,150 700,130 815,120"/>
<path stroke="#fff" stroke-width="9" d="M395,105 C450,60 540,45 590,100 M500,130 C560,150 700,130 815,120"/>
<path stroke="#000" stroke-width="29" d="M390,130 C420,200 430,250 440,310 C470,350 490,380 470,440 C440,470 380,500 345,570"/>
<path stroke="#fff" stroke-width="26" d="M390,130 C420,200 430,250 440,310 C470,350 490,380 470,440 C440,470 380,500 345,570"/>
<path stroke="#000" stroke-width="10" d="M355,670 C340,770 260,820 245,980"/>
<path stroke="#fff" stroke-width="7.5" d="M355,670 C340,770 260,820 245,980"/>
<path stroke="#000" stroke-width="10" d="M388,670 L390,730 C430,800 470,830 470,980"/>
<path stroke="#fff" stroke-width="7.5" d="M388,670 L390,730 C430,800 470,830 470,980"/>
<path stroke="#000" stroke-width="12" d="M475,1100 C500,1200 530,1220 640,1272 C700,1290 750,1280 800,1340"/>
<path stroke="#fff" stroke-width="9" d="M475,1100 C500,1200 530,1220 640,1272 C700,1290 750,1280 800,1340"/>
<path stroke="#000" stroke-width="5" d="M860,115 C960,110 1000,135 1100,120 C1160,110 1190,90 1230,90 M820,1335 C890,1330 950,1340 1030,1350 L1010,1380 L900,1380"/>
<path stroke="#fff" stroke-width="3" d="M860,115 C960,110 1000,135 1100,120 C1160,110 1190,90 1230,90 M820,1335 C890,1330 950,1340 1030,1350 L1010,1380 L900,1380"/>
<path stroke="#000" stroke-width="5" d="M575,1250 V1310 C540,1345 480,1355 455,1365 L595,1430 C605,1450 580,1470 545,1480"/>
<path stroke="#fff" stroke-width="3" d="M575,1250 V1310 C540,1345 480,1355 455,1365 L595,1430 C605,1450 580,1470 545,1480"/>
</g>
<g class="p">
<path d="M375,170 C400,230 415,270 415,300 M395,170 C420,230 435,270 435,300 M415,170 C440,230 455,270 455,300"/>
<path d="M350,165 C345,150 325,150 335,125 C370,105 440,110 490,130 C480,150 410,170 350,165Z" class="w"/>
<path class="w" d="M435,112 L490,105 L510,130 L480,125Z"/>
<path d="M425,150 l20,5 l-5,8 l10,5 l-5,10 l-20,-10z" style="stroke-width:2.4"/>
<path class="w" d="M375,300 L470,295 L470,310 L495,335 L475,370 C450,380 410,370 395,340 L375,320Z"/>
<path class="m" d="M375,297 L470,297"/>
<path class="m" style="stroke-width:2" d="M440,340 L470,370 M455,335 L490,370"/>
<path class="w" d="M412,372H515V410H412Z"/>
<path class="w" d="M405,425 C430,420 470,440 490,455 C480,485 420,495 385,475 C365,460 375,440 405,425Z"/>
<path d="M420,430 C430,445 450,455 470,455 M410,440 C420,450 440,460 460,465"/>
<path d="M330,560 C340,520 370,500 395,478 M350,560 C360,525 380,505 405,485 M375,560 C380,525 400,510 430,490"/>
<path class="w" d="M297,560H400V598H297Z"/>
<ellipse class="w" cx="395" cy="600" rx="32" ry="38" style="stroke-width:2"/>
<ellipse cx="377" cy="598" rx="10" ry="14" style="stroke-width:4"/>
<path class="w" d="M318,657 L350,650 L410,645 L405,660 L350,665 L320,665Z"/>
<path class="m" d="M350,650 L405,655 M355,625 L345,665"/>
<path class="w" d="M373,740 L395,725 L415,740 L395,770 Z"/>
<path class="w" d="M452,980 H490 V1015 H452Z"/>
<path d="M460,1015 C462,1060 470,1090 480,1115 M470,1015 C472,1060 480,1090 490,1115 M478,1015 C480,1050 487,1085 495,1110"/>
<path class="m" d="M462,1050 L470,1090 M483,1050 L495,1100"/>
<path class="m" style="stroke-width:3" d="M465,1122 L520,1120 L555,1130 M465,1135 L520,1134 L550,1135"/>
<path d="M500,1195 L530,1220 L520,1225 L495,1205"/>
<path d="M645,1270 L675,1295 M675,1280 L690,1295"/>
<!-- 11 -->
<path class="w" d="M680,885 C710,850 770,840 808,868 V905 L785,910 H760 V950 L722,970 L722,935 L685,950Z"/>
<path d="M750,915 C750,885 735,870 700,868 M722,935 L750,925 L785,910"/>
<ellipse cx="752" cy="942" rx="8" ry="10" style="stroke-width:3"/>
<!-- 12 -->
<path class="w" d="M820,965 C840,950 880,960 885,968 L875,998 C860,1000 840,985 820,965Z"/>
<ellipse class="w" cx="910" cy="988" rx="35" ry="26"/>
<path d="M825,965 L880,985 M840,955 L835,985 M860,960 L855,992 M895,970 L935,985 M905,968 L895,1005"/>
<ellipse cx="908" cy="990" rx="32" ry="24" style="stroke-width:2.5"/>
<!-- grounding loop -->
<path d="M220,1020 L255,1015 V1040 L225,1040Z"/>
<path class="m" d="M240,1025 L255,1035"/>
<path d="M205,1085 C210,1075 240,1095 310,1100 C320,1105 310,1115 305,1112 C270,1105 220,1095 205,1088 M230,1078 L235,1095"/>
<!-- ends -->
<path d="M880,40 C880,70 870,95 850,115 M830,15 L860,30 C870,50 860,60 855,70"/>
<path class="w" d="M792,50 H828 V82 H795Z"/>
<path class="m" d="M800,55h10v22h-10z M815,55h10v22h-10z"/>
<path d="M995,20 Q1015,5 1040,20 L1030,45 Q1000,40 995,20Z M1040,45 C1080,55 1150,70 1190,75 L1235,90 L1230,100 L1190,110"/>
<path class="b" d="M1025,45 H1050 V75 H1025Z M1130,75 H1150 V95 H1130Z"/>
<path class="w" d="M588,125h26v25h-26z M805,112h25v20h-25z M1098,115h25v15h-25z"/>
<path d="M1150,85 C1180,85 1190,100 1170,110 M1130,115 C1170,115 1195,100 1195,80"/>
<!-- lower right -->
<path class="b" d="M795,1290h25v18h-25z M1005,1305h70v12h-70z M1200,1280h22v15h-22z M825,1365h50v25h-50z"/>
<path d="M1010,1315 C1060,1310 1140,1305 1170,1295 L1195,1300 M1040,1350 C1100,1360 1170,1360 1195,1335 M820,1360 L960,1375 L970,1390 L900,1395 L825,1395 M1225,1300 H1255 M830,1310 H790"/>
<ellipse cx="1197" cy="1322" rx="20" ry="15" style="stroke-width:3"/>
<ellipse cx="798" cy="1330" rx="14" ry="12" style="stroke-width:3"/>
<path class="m" style="stroke-width:2.4" d="M830,1375 H880 M835,1385 H955 M1005,1322 L1070,1310 M1010,1330 L1075,1320"/>
<!-- lower left -->
<ellipse cx="548" cy="1482" rx="26" ry="16" style="stroke-width:4"/>
<path class="b" d="M550,1445h12v12h-12z"/>
<path d="M575,1472 H605 M520,1490 C480,1500 420,1490 380,1510 C360,1520 350,1530 360,1535 M345,1515 C370,1540 420,1540 470,1515 M275,1485 V1500 H310"/>
<path class="w" d="M268,1445 H298 V1480 H270Z"/>
<path class="w" d="M378,1460h22v45h-22z"/>
<path class="b" d="M315,1490 l70,-15 l5,15 l-25,25 l-45,0z"/>
<path fill="#fff" d="M335,1490h8v8h-8z M355,1488h8v8h-8z"/>
</g>
<path class="m" style="stroke-width:5" d="M155,1045 C160,1010 220,990 290,990 M310,1010 C300,1060 190,1075 155,1045"/>
<path class="m" style="stroke-width:5" d="M298,1003 L665,915"/>
<path class="m" style="stroke-width:5" d="M750,935 L810,955"/>
</g>

<!-- Z8: parts 15,16 -->
<g transform="translate(780,2360) scale(.3333,.3333)">
<g class="p">
<ellipse class="w" cx="498" cy="168" rx="110" ry="62"/>
<path d="M388,175 V190 C400,230 450,245 498,245 C550,245 600,225 608,190 V170"/>
<ellipse cx="498" cy="165" rx="64" ry="32" />
<path d="M440,170 C455,145 540,145 555,170"/>
<!-- frame -->
<path d="M160,592 L80,635 V1050 L140,1100 L160,1075 L175,1095 L185,1110 H385 M585,1110 H820 L835,1080 L865,1098 L925,1040 V635 L850,592 H640 M150,592 H445"/>
<path d="M88,640 V685 M915,640 V685 M88,780 V835 M915,850 V985 M88,870 V1030 M160,1072 H365 M160,1085 H365 M565,1072 H770 M565,1085 H770 M800,1072 H850 M80,1030 L140,1065 L150,1080 M925,1030 L860,1065 L850,1080"/>
<path class="m" style="stroke-width:2.4" d="M130,760 C170,680 270,630 385,615 M615,615 C720,630 830,680 870,760 M135,775 L360,680 M870,775 L640,680"/>
<path d="M140,745 C175,680 280,640 360,625 M635,625 C730,640 830,690 860,745 M125,765 C165,665 280,620 390,610 M610,610 C740,620 840,670 878,765"/>
<path d="M135,770 L130,800 C150,790 180,790 190,810 C180,850 140,860 125,860 L130,895 C170,980 280,1030 400,1050 M865,770 L880,800 C850,790 820,790 810,810 C820,850 860,860 880,860 L875,895 C830,980 720,1030 600,1050"/>
<path class="m" style="stroke-width:2.4" d="M130,900 C170,970 280,1030 385,1045 M875,900 C830,970 720,1030 610,1045 M150,880 L345,815 M850,880 L655,815 M395,845 L405,1040 M605,845 L600,1040"/>
<path d="M160,925 C200,960 300,1010 370,1030 M210,935 C260,970 330,990 380,1010 M690,990 C760,970 820,930 840,905 M620,1030 C700,1010 800,960 830,925"/>
<ellipse class="w" cx="375" cy="825" rx="30" ry="24"/>
<path d="M345,825 V835 C355,850 395,850 405,830"/>
<ellipse class="w" cx="628" cy="825" rx="30" ry="24"/>
<path d="M598,825 V835 C610,850 645,850 658,830"/>
<path d="M345,690 C350,670 370,655 385,665 M655,690 C650,670 630,655 615,665"/>
<path d="M400,1045 L420,1045 L470,990 C480,980 520,980 530,990 L580,1045 L600,1045 M430,1040 L480,1020 H525 L570,1040"/>
<ellipse class="w" cx="500" cy="1000" rx="25" ry="12"/>
</g>
<path class="b" d="M155,615h22v10h-22z M245,610h25v12h-25z M115,688h20v10h-20z M115,828h22v12h-22z M115,968h22v12h-22z M118,1020h30v14h-30z M245,1042h25v12h-25z M490,1042h22v12h-22z M735,1042h22v12h-22z M820,1040h30v14h-30z M865,968h22v12h-22z M865,825h22v12h-22z M865,685h22v12h-22z M820,675h20v10h-20z M735,610h22v12h-22z M660,612h20v12h-20z M808,604h22v12h-22z M858,632h28v14h-28z"/>
<!-- hub rings -->
<g class="p">
<ellipse class="w" cx="500" cy="690" rx="115" ry="90"/>
<ellipse cx="500" cy="740" rx="105" ry="42"/>
</g>
<path class="m" style="stroke-width:3" d="M390,650 C410,740 590,740 612,650 M388,670 C410,760 590,760 612,670 M390,690 C410,770 590,770 610,690 M392,705 C420,775 580,775 608,705"/>
<path class="m" style="stroke-width:2.6" d="M405,640 C420,700 580,700 595,640 M420,640 C440,690 560,690 580,640 M395,625 C410,620 430,610 445,605 M605,625 C590,620 570,610 555,605"/>
<path class="b" d="M448,480 C448,450 455,425 475,420 L475,372 C480,360 520,360 525,372 L525,420 C545,425 550,450 555,480 L555,590 L545,610 C530,630 470,630 455,610 L448,590Z"/>
<path fill="#fff" d="M452,612 C470,635 530,635 552,612 L552,635 C540,665 460,665 450,635Z"/>
<path class="m" style="stroke-width:2.4;stroke:#fff" d="M472,445 C485,460 515,460 528,445 M490,372 C495,384 510,384 515,372"/>
<path class="k" d="M497,0V175 M501,262V362"/>
<path class="k" d="M518,1115V1165"/>
</g>

<!-- leader arrows -->
<g>
<path class="a" d="M815,469 L882,507"/>
<path class="a" d="M597,635 L732,603"/>
<path class="a" d="M601,728 L890,732"/>
<path class="a" d="M594,840 L756,873"/>
<path class="a" d="M579,947 L687,1004"/>
<path class="a" d="M979,1102 L929,1175"/>
<path class="a" d="M508,1504 L596,1586"/>
<path class="a" d="M599,1443 L668,1498"/>
<path class="a" d="M564,1705 L657,1784"/>
<path class="a" d="M1708,2203 L1763,2285"/>
<path class="a" d="M2028,2243 L1956,2298"/>
<path class="a" d="M2082,2318 L1995,2353"/>
<path class="a" d="M2056,912 L1857,885"/>
<path class="a" d="M251,1696 L322,1754"/>
<path class="a" d="M717,2492 L899,2428"/>
<path class="a" d="M692,2614 L802,2632"/>
<path class="a" d="M2053,681 L1969,629"/>
<path class="a" d="M2179,803 L2090,772"/>
<path class="a" d="M2062,1021 L1894,1016"/>
<path class="a" d="M2065,1124 L1898,1134"/>
<path class="a" d="M2068,1207 L1889,1218"/>
<path class="a" d="M2069,1305 L1941,1323"/>
<path class="a" d="M2080,1440 L1994,1506"/>
<path class="a" d="M1706,1702 L1805,1764"/>
<path class="a" d="M2189,1630 L2122,1690"/>
<path class="a" d="M2136,1558 L2008,1643"/>
<path class="a" d="M1972,2041 L1839,2148"/>
</g>

<!-- labels -->
<g>
<text x="776" y="466">1</text>
<text x="554" y="658">2</text>
<text x="555" y="744">3</text>
<text x="547" y="844">4</text>
<text x="540" y="941">5</text>
<text x="1001" y="1085">6</text>
<text x="473" y="1474">7</text>
<text x="562" y="1430">8</text>
<text x="530" y="1685">9</text>
<text x="1686" y="2187">10</text>
<text x="2063" y="2239">11</text>
<text x="2123" y="2322">12</text>
<text x="2100" y="938">13</text>
<text x="220" y="1681">14</text>
<text x="677" y="2528">15</text>
<text x="650" y="2617">16</text>
<text x="2092" y="724">17</text>
<text x="2233" y="838">18</text>
<text x="2107" y="1042">19</text>
<text x="2107" y="1140">20</text>
<text x="2107" y="1225">21</text>
<text x="2110" y="1319">22</text>
<text x="2112" y="1435">23</text>
<text x="1667" y="1700">24</text>
<text x="2220" y="1621">25</text>
<text x="2171" y="1556">26</text>
<text x="2005" y="2035">27</text>
</g>
</svg>
</body></html>
